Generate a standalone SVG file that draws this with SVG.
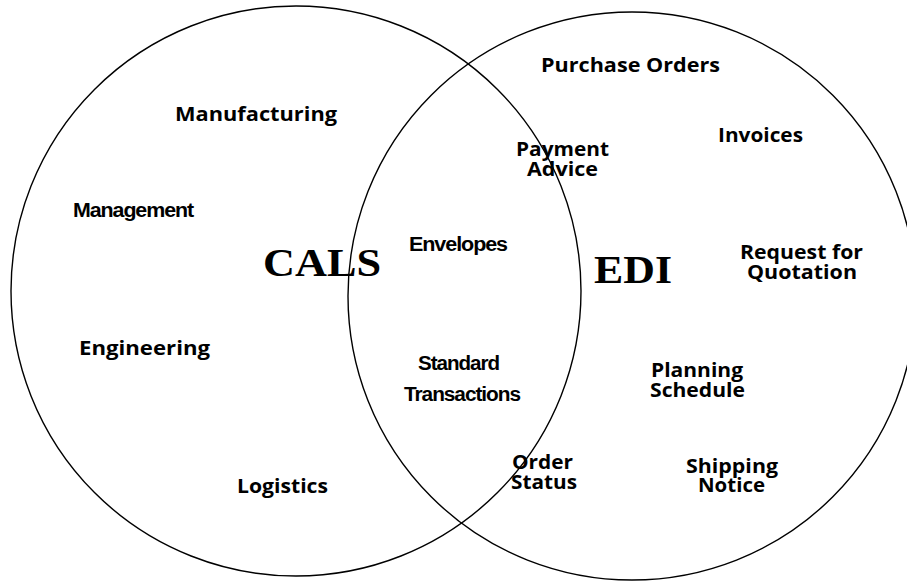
<svg xmlns="http://www.w3.org/2000/svg" width="907" height="582" viewBox="0 0 907 582">
<style>
.ring{fill:none;stroke:#000;stroke-width:1.4}
.f{font-family:"Open Sans","Noto Sans","DejaVu Sans",sans-serif;font-weight:bold;font-size:19px;fill:#000}
.h{font-family:"Liberation Sans",Arial,sans-serif;font-weight:bold;font-size:20px;fill:#000;letter-spacing:-1px}
.s{font-family:"Liberation Serif","Times New Roman",serif;font-weight:bold;font-size:41px;fill:#000}
</style>
<rect width="907" height="582" fill="#fff"/>
<g id="circles">
<circle id="cals-circle" class="ring" cx="296" cy="291" r="285"/>
<circle id="edi-circle" class="ring" cx="632" cy="296" r="284"/>
</g>
<g id="cals"><text class="s" x="263" y="276" textLength="118" lengthAdjust="spacingAndGlyphs">CALS</text></g>
<g id="edi"><text class="s" x="594" y="283" textLength="78" lengthAdjust="spacingAndGlyphs">EDI</text></g>
<g id="manufacturing"><text class="f" x="175" y="121" textLength="162" lengthAdjust="spacingAndGlyphs">Manufacturing</text></g>
<g id="management"><text class="h" x="73" y="217" textLength="120" lengthAdjust="spacingAndGlyphs">Management</text></g>
<g id="engineering"><text class="f" x="79" y="355" textLength="131" lengthAdjust="spacingAndGlyphs">Engineering</text></g>
<g id="logistics"><text class="f" x="237" y="493" textLength="91" lengthAdjust="spacingAndGlyphs">Logistics</text></g>
<g id="envelopes"><text class="h" x="409" y="251" textLength="98" lengthAdjust="spacingAndGlyphs">Envelopes</text></g>
<g id="standard-transactions">
<text class="h" x="418" y="370" textLength="81" lengthAdjust="spacingAndGlyphs">Standard</text>
<text class="h" x="404" y="401" textLength="116" lengthAdjust="spacingAndGlyphs">Transactions</text>
</g>
<g id="purchase-orders"><text class="f" x="541" y="72" textLength="179" lengthAdjust="spacingAndGlyphs">Purchase Orders</text></g>
<g id="invoices"><text class="f" x="718" y="142" textLength="85" lengthAdjust="spacingAndGlyphs">Invoices</text></g>
<g id="payment-advice">
<text class="f" x="516" y="156" textLength="93" lengthAdjust="spacingAndGlyphs">Payment</text>
<text class="f" x="527" y="176" textLength="71" lengthAdjust="spacingAndGlyphs">Advice</text>
</g>
<g id="request-for-quotation">
<text class="f" x="740" y="259" textLength="123" lengthAdjust="spacingAndGlyphs">Request for</text>
<text class="f" x="747" y="279" textLength="110" lengthAdjust="spacingAndGlyphs">Quotation</text>
</g>
<g id="planning-schedule">
<text class="f" x="651" y="377" textLength="92" lengthAdjust="spacingAndGlyphs">Planning</text>
<text class="f" x="650" y="397" textLength="95" lengthAdjust="spacingAndGlyphs">Schedule</text>
</g>
<g id="order-status">
<text class="f" x="512" y="469" textLength="61" lengthAdjust="spacingAndGlyphs">Order</text>
<text class="f" x="511" y="489" textLength="66" lengthAdjust="spacingAndGlyphs">Status</text>
</g>
<g id="shipping-notice">
<text class="f" x="686" y="473" textLength="92" lengthAdjust="spacingAndGlyphs">Shipping</text>
<text class="f" x="698" y="492" textLength="67" lengthAdjust="spacingAndGlyphs">Notice</text>
</g>
</svg>
